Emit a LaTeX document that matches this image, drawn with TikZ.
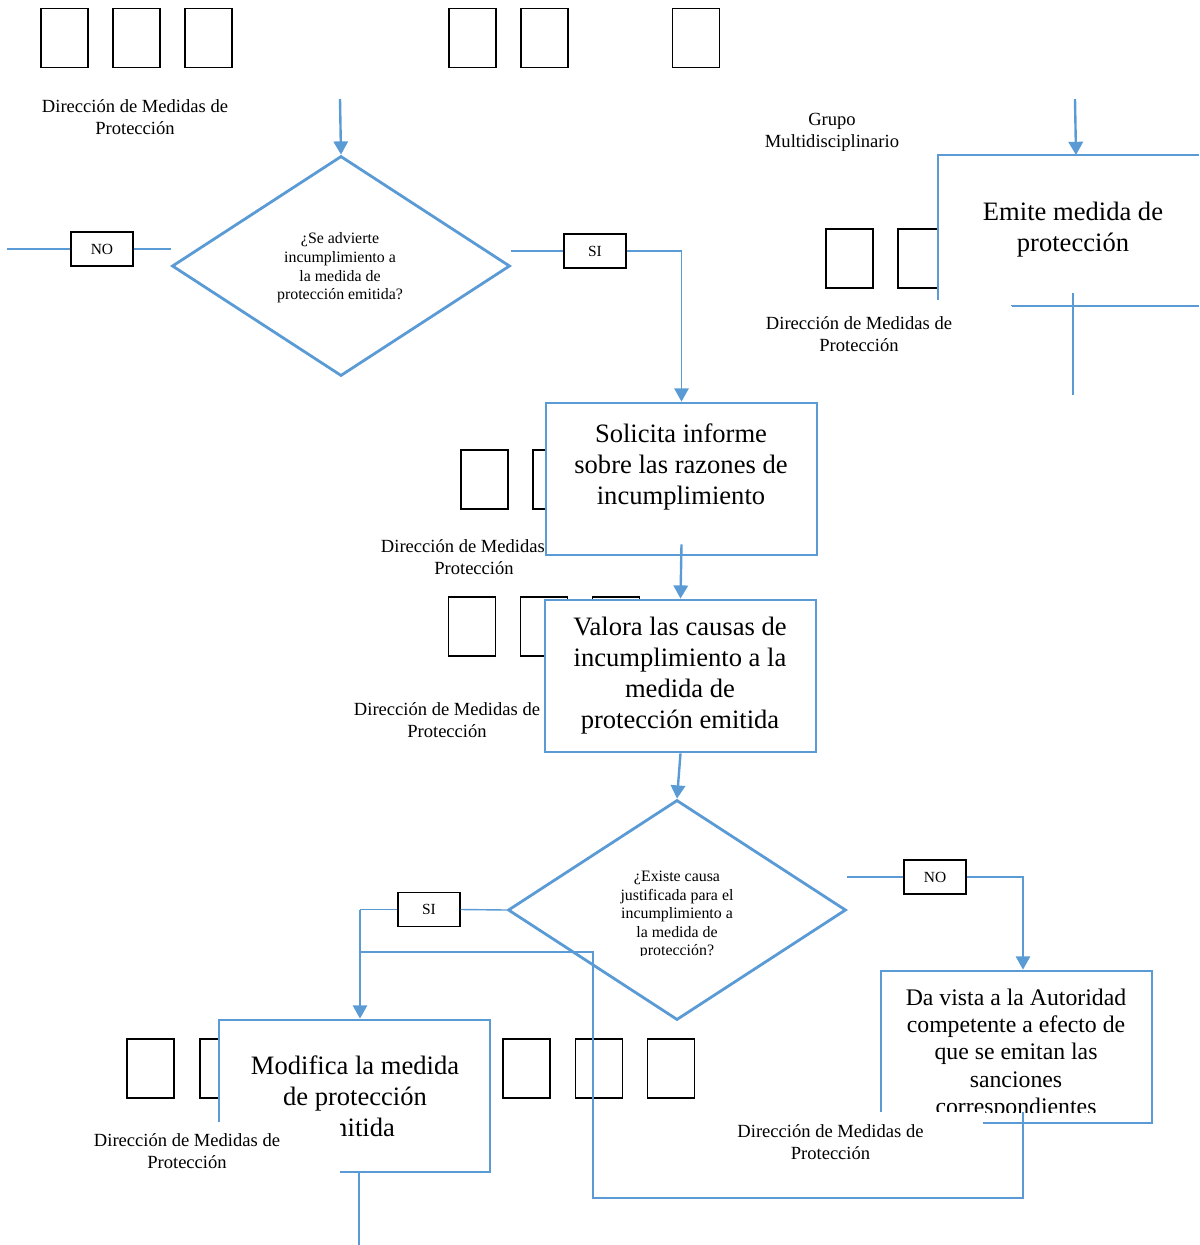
\documentclass[tikz,border=0pt]{standalone}
\usepackage{fontspec}
\setmainfont{Liberation Serif}
\usetikzlibrary{shapes.geometric,arrows.meta,positioning}

\newlength\px
\setlength\px{0.025cm}
\definecolor{flowblue}{RGB}{91,155,213}

\tikzset{
  slot/.style={draw=black,line width=1.3pt,fill=white,inner sep=0pt,
    minimum width=47\px,minimum height=59\px},
  unit/.style={fill=white,inner sep=0pt,minimum width=305\px,minimum height=56\px,
    align=center,font=\fontsize{13.2}{15.5}\selectfont},
  process/.style={draw=flowblue,line width=2pt,fill=white,inner sep=0pt,
    minimum width=271\px,minimum height=152\px},
  decision/.style={diamond,draw=flowblue,line width=2pt,fill=white,inner sep=0pt,
    minimum width=338\px,minimum height=220\px},
  answer/.style={draw=black,line width=1pt,fill=white,inner sep=0pt,
    minimum width=62\px,minimum height=34\px,font=\fontsize{11}{13}\selectfont},
  bigtext/.style={align=center,inner sep=0pt,font=\fontsize{18.9}{22}\selectfont},
  asktext/.style={align=center,inner sep=0pt,font=\fontsize{11.3}{13.2}\selectfont},
  link/.style={draw=flowblue,line width=1pt},
  flow/.style={link,-{Triangle[length=0.33cm,width=0.36cm]}},
  mainflow/.style={flow,line width=1.7pt},
}

\begin{document}
\begin{tikzpicture}[x=0.025cm,y=-0.025cm]
  \useasboundingbox (0,0) rectangle (1199,1245);

  % empty boxes
  \node[slot] (s1) at (64.5,38) {};
  \node[slot] (s2) at (136.5,38) {};
  \node[slot] (s3) at (208.5,38) {};
  \node[slot] (s4) at (472.5,38) {};
  \node[slot] (s5) at (544.5,38) {};
  \node[slot] (s6) at (696,38) {};
  \node[slot] (e1) at (849.5,258.5) {};
  \node[slot] (e2) at (921.5,258.5) {};
  \node[slot] (r1) at (484.5,479.5) {};
  \node[slot] (r2) at (556.5,479.5) {};
  \node[slot] (v1) at (472,626.5) {};
  \node[slot] (v2) at (544,626.5) {};
  \node[slot] (v3) at (616,626.5) {};
  \node[slot] (m1) at (150.5,1068.5) {};
  \node[slot] (m2) at (223.5,1068.5) {};
  \node[slot] (m3) at (526.5,1068.5) {};
  \node[slot] (m4) at (599,1068.5) {};
  \node[slot] (m5) at (671,1068.5) {};

  % labels behind the boxes
  \node[unit] (lblSol) at (474,557) {Dirección de Medidas de\\Protección};
  \node[unit] (lblVal) at (447,720) {Dirección de Medidas de\\Protección};

  % emite (cut box)
  \fill[white] (938,155) rectangle (1199,300);
  \coordinate (emBL) at (938,300);
  \coordinate (emTR) at (1199,155);
  \coordinate (emL) at (1011,306);
  \coordinate (emR) at (1199,306);
  \coordinate (emU) at (1073,293);
  \coordinate (emD) at (1073,395);
  \draw[link,line width=2pt] (emBL) |- (emTR);
  \draw[link,line width=2pt] (emL) -- (emR);
  \draw[link] (emU) -- (emD);
  \node[bigtext] (emite) at (1073,230) {Emite medida de\\protección};

  % first question
  \node[decision] (decA) at (341,266) {};
  \node[asktext] (askA) at (340,268) {¿Se advierte\\incumplimiento a\\la medida de\\protección emitida?};
  \node[answer] (noA) at (102,249) {NO};
  \node[answer] (siA) at (595,251) {SI};

  \node[process] (sol) at (681.5,479) {};
  \node[bigtext] (solText) at (681,467) {Solicita informe\\sobre las razones de\\incumplimiento};
  \node[process] (val) at (680.5,676) {};
  \node[bigtext] (valText) at (680,676) {Valora las causas de\\incumplimiento a la\\medida de\\protección emitida};

  % second question
  \node[decision] (decB) at (677,910) {};
  \begin{scope}
    \clip (508,790) rectangle (846,955);
    \node[asktext] (askB) at (677,915) {¿Existe causa\\justificada para el\\incumplimiento a\\la medida de\\protección?};
  \end{scope}
  \node[answer] (siB) at (429,909.5) {SI};
  \node[answer] (noB) at (935,877) {NO};

  \node[process] (vista) at (1016.5,1047) {};
  \begin{scope}
    \clip (881,971) rectangle (1152,1112);
    \node[align=center,inner sep=0pt,font=\fontsize{16.9}{19.4}\selectfont] (vistaText) at (1016,1054)
      {Da vista a la Autoridad\\competente a efecto de\\que se emitan las\\sanciones\\correspondientes};
  \end{scope}
  \node[process] (mod) at (354.5,1096) {};
  \node[bigtext] (modText) at (355,1096) {Modifica la medida\\de protección\\emitida};

  % labels over the boxes
  \node[unit] (lblTop) at (135,117) {Dirección de Medidas de\\Protección};
  \node[unit,minimum width=150\px] (lblGrupo) at (832,132) {Grupo\\Multidisciplinario};
  \node[unit] (lblEmite) at (859,334) {Dirección de Medidas de\\Protección};
  \node[unit,minimum height=58\px] (lblMod) at (187,1151) {Dirección de Medidas de\\Protección};
  \node[unit,minimum height=60\px] (lblVista) at (830.5,1142) {Dirección de Medidas de\\Protección};

  % connectors
  \coordinate (inA) at (340,99);
  \coordinate (outA) at (7,249);
  \coordinate (inE) at (1075,99);
  \coordinate (emIn) at (1076,155);
  \coordinate (turnB) at (360,909.5);
  \coordinate (loopS) at (360,952);
  \coordinate (loopE) at (1023,1112);
  \coordinate (outM) at (359,1245);
  \draw[mainflow] (inA) -- (decA.north);
  \draw[mainflow] (inE) -- (emIn);
  \draw[link] (outA) -- (noA.west);
  \draw[link] (noA.east) -- (noA.east -| decA.west);
  \draw[link] (siA.west -| decA.east) -- (siA.west);
  \draw[flow] (siA.east) -| (sol.north);
  \draw[mainflow] ([yshift=12\px]sol.south) -- (val.north);
  \draw[mainflow] (val.south) -- (decB.north);
  \draw[link] (decB.west) -- (siB.east);
  \draw[link] (siB.west) -- (turnB);
  \draw[flow] (turnB) -- (turnB |- mod.north);
  \draw[link] (decB.east |- noB.west) -- (noB.west);
  \draw[flow] (noB.east) -| ([xshift=6.5\px]vista.north);
  \draw[link] (loopS) -| (593,1198) -| (loopE);
  \draw[link] (mod.south -| outM) -- (outM);
\end{tikzpicture}
\end{document}
